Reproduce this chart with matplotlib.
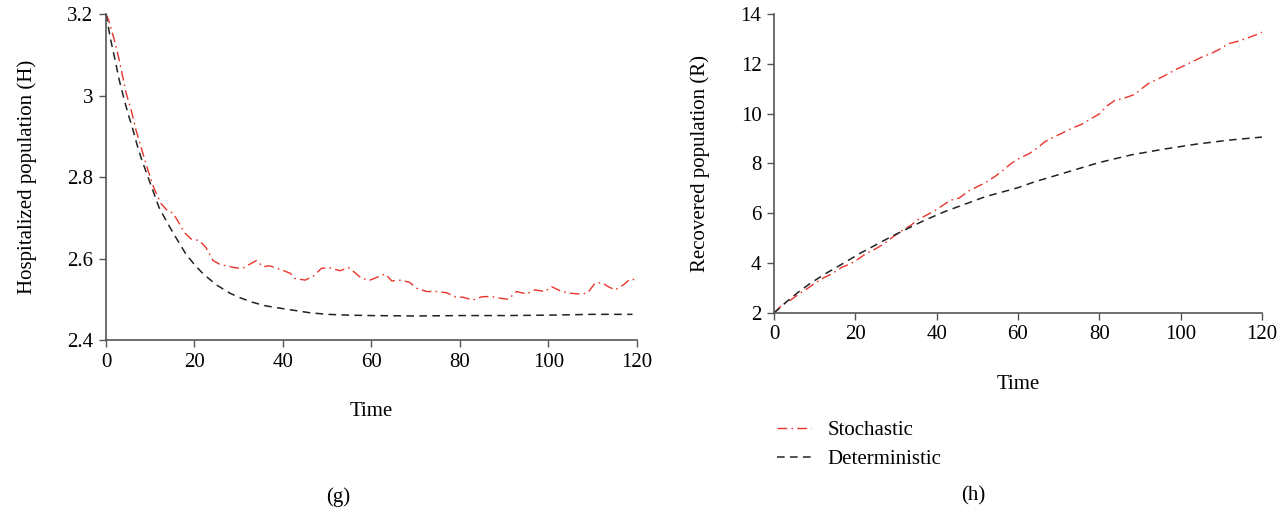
import matplotlib
matplotlib.use("Agg")
import matplotlib.pyplot as plt

plt.rcParams['font.family'] = ['Liberation Serif', 'DejaVu Serif']
plt.rcParams['font.size'] = 15

# (g) hospitalized population H
t_h_stoch = [0, 0.6, 1.9, 3.0, 3.8, 4.5, 5.7, 6.8, 7.9, 9.4, 10.9, 12.5, 14.0, 15.1,
             16.2, 17.7, 19.2, 21.1, 22.6, 24.2, 25.7, 27.2, 29.4, 30.9, 32.5, 34.0,
             35.5, 37.0, 39.2, 41.6, 42.7, 45.0, 46.9, 48.7, 50.6, 52.9, 54.8, 56.3,
             57.8, 59.7, 61.5, 63.1, 64.6, 66.8, 68.7, 70.2, 72.5, 74.7, 77.0, 78.9,
             80.7, 82.9, 84.9, 86.8, 88.5, 89.4, 90.9, 92.8, 95.1, 96.9, 99.2, 100.7,
             102.6, 104.5, 107.1, 108.8, 110.5, 112.0, 113.5, 115.0, 116.9, 118.4, 120]
h_stoch = [3.2, 3.185, 3.136, 3.087, 3.046, 3.008, 2.964, 2.915, 2.874, 2.820, 2.771,
           2.734, 2.716, 2.712, 2.693, 2.664, 2.648, 2.644, 2.627, 2.595, 2.586, 2.582,
           2.577, 2.576, 2.586, 2.595, 2.580, 2.582, 2.574, 2.564, 2.551, 2.547, 2.557,
           2.576, 2.577, 2.570, 2.578, 2.565, 2.551, 2.547, 2.555, 2.562, 2.545, 2.547,
           2.541, 2.527, 2.519, 2.519, 2.516, 2.506, 2.505, 2.498, 2.506, 2.507, 2.504,
           2.502, 2.500, 2.519, 2.513, 2.523, 2.519, 2.531, 2.521, 2.515, 2.513, 2.515,
           2.539, 2.541, 2.531, 2.523, 2.535, 2.549, 2.548]
t_h_det = [0, 1, 2, 3, 4, 5, 6, 7, 8, 9, 10, 12, 14, 16, 18, 20, 22, 25, 28, 30, 33,
           36, 40, 43, 46, 50, 55, 60, 70, 80, 90, 100, 110, 119]
h_det = [3.2, 3.14, 3.09, 3.038, 2.995, 2.955, 2.92, 2.88, 2.845, 2.815, 2.785, 2.725,
         2.685, 2.648, 2.612, 2.585, 2.562, 2.535, 2.515, 2.505, 2.493, 2.484, 2.477,
         2.472, 2.467, 2.463, 2.461, 2.460, 2.459, 2.460, 2.460, 2.461, 2.463, 2.463]

# (h) recovered population R
t_r_stoch = [0, 1.9, 4.0, 6.0, 8.1, 10.1, 12.2, 14.2, 16.7, 18.8, 20.4, 22.5, 24.9, 27.0,
             29.1, 31.5, 33.6, 35.2, 37.3, 39.8, 41.4, 43.5, 45.5, 48.0, 50.5, 52.1,
             54.6, 56.2, 58.3, 60.7, 62.8, 64.9, 66.5, 68.6, 70.6, 73.1, 75.6, 78.0,
             80.1, 81.7, 83.8, 86.2, 88.7, 90.4, 92.0, 94.5, 97.0, 98.6, 100.7, 102.7,
             105.2, 107.7, 109.7, 111.8, 114.2, 116.7, 118.8, 120]
r_stoch = [2.0, 2.31, 2.51, 2.75, 2.97, 3.2, 3.41, 3.57, 3.84, 3.97, 4.13, 4.37, 4.57,
           4.77, 5.04, 5.31, 5.51, 5.73, 5.91, 6.13, 6.31, 6.53, 6.61, 6.91, 7.11, 7.24,
           7.51, 7.71, 8.0, 8.24, 8.40, 8.64, 8.86, 9.04, 9.20, 9.40, 9.57, 9.80, 10.0,
           10.29, 10.53, 10.63, 10.77, 11.0, 11.2, 11.40, 11.60, 11.76, 11.91, 12.07,
           12.27, 12.43, 12.60, 12.81, 12.91, 13.05, 13.18, 13.27]
t_r_det = [0, 3, 6, 9, 13, 17, 21, 25, 29, 33, 37, 42, 47, 52, 56, 60, 64, 72, 80, 88,
           96, 104, 112, 120]
r_det = [2.0, 2.44, 2.84, 3.2, 3.61, 3.99, 4.38, 4.73, 5.08, 5.40, 5.72, 6.07, 6.37,
         6.67, 6.85, 7.03, 7.26, 7.65, 8.04, 8.35, 8.58, 8.78, 8.94, 9.06]

x_ticks = [0, 20, 40, 60, 80, 100, 120]
h_ticks = [2.4, 2.6, 2.8, 3.0, 3.2]
h_tick_labels = ['2.4', '2.6', '2.8', '3', '3.2']
r_ticks = [2, 4, 6, 8, 10, 12, 14]

red = '#e8352c'
stoch_style = (0, (7, 3, 1.2, 3))
det_style = (0, (5, 3.5))

fig = plt.figure(figsize=(12.86, 5.13), dpi=100)
ax1 = fig.add_axes([0.0824, 0.3372, 0.4129, 0.6355])
ax2 = fig.add_axes([0.6019, 0.3899, 0.3794, 0.5828])


def style_axes(ax):
    for s in ['top', 'right']:
        ax.spines[s].set_visible(False)
    for s in ['left', 'bottom']:
        ax.spines[s].set_color('#555555')
        ax.spines[s].set_linewidth(1.2)
    ax.tick_params(direction='out', length=5, width=1.0, color='#555555',
                   labelsize=15, pad=4)
    ax.set_xlim(0, 120)
    ax.set_xticks(x_ticks)


ax1.plot(t_h_stoch, h_stoch, color=red, lw=1.0, linestyle=stoch_style)
ax1.plot(t_h_det, h_det, color='#222222', lw=1.1, linestyle=det_style)
style_axes(ax1)
ax1.set_ylim(2.4, 3.2)
ax1.set_yticks(h_ticks)
ax1.set_yticklabels(h_tick_labels)
ax1.set_xlabel('Time', fontsize=15, labelpad=22)
ax1.set_ylabel('Hospitalized population (H)', fontsize=15, labelpad=22)

l1, = ax2.plot(t_r_stoch, r_stoch, color=red, lw=1.0, linestyle=stoch_style)
l2, = ax2.plot(t_r_det, r_det, color='#222222', lw=1.1, linestyle=det_style)
style_axes(ax2)
ax2.set_ylim(2, 14)
ax2.set_yticks(r_ticks)
ax2.set_xlabel('Time', fontsize=15, labelpad=22)
ax2.set_ylabel('Recovered population (R)', fontsize=15, labelpad=22)

fig.legend([l1, l2], ['Stochastic', 'Deterministic'], loc='upper left',
           bbox_to_anchor=(0.598, 0.197), frameon=False, fontsize=15,
           handlelength=1.6, handletextpad=0.8, labelspacing=0.45,
           borderaxespad=0.0)

fig.text(0.263, 0.031, '(g)', ha='center', va='center', fontsize=15)
fig.text(0.757, 0.033, '(h)', ha='center', va='center', fontsize=15)

fig.savefig('out.png', dpi=100)
